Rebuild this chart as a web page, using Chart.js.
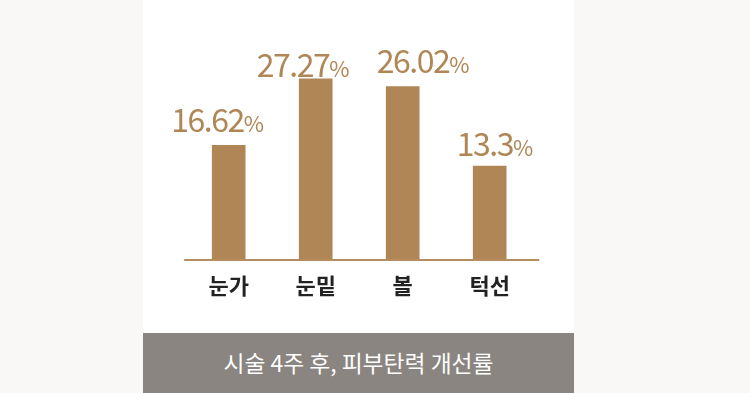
<!DOCTYPE html>
<html><head><meta charset="utf-8">
<script src="https://cdn.jsdelivr.net/npm/chart.js@4"></script>
<style>
html,body{margin:0;padding:0;width:750px;height:393px;overflow:hidden;background:#f9f8f6;}
#panel{position:absolute;left:143px;top:0;width:431px;height:333px;background:#ffffff;}
#band{position:absolute;left:143px;top:333px;width:431px;height:60px;background:#8a8580;color:#ffffff;
 font-family:"Noto Sans CJK KR","Noto Sans",sans-serif;font-size:22.8px;line-height:60px;text-align:center;}
#wrap{position:absolute;left:0;top:0;width:750px;height:393px;}
</style></head>
<body>
<div id="panel"></div>
<div id="band">시술 4주 후, 피부탄력 개선률</div>
<div id="wrap"><canvas id="c" width="750" height="393"></canvas></div>
<script>
const categories = ["눈가", "눈밑", "볼", "턱선"];
const values = [16.62, 27.27, 26.02, 13.3];
const valueTexts = ["16.62", "27.27", "26.02", "13.3"];
const unit = "%";
const yMin = -1.75;
const yMax = 30;

const BAR = "#b08656";
const FONT = '"Noto Sans CJK KR","Noto Sans",sans-serif';

const valueLabels = {
  id: 'valueLabels',
  afterDatasetsDraw(chart, args, opts) {
    const ctx = chart.ctx;
    const meta = chart.getDatasetMeta(0);
    ctx.save();
    ctx.fillStyle = opts.color;
    ctx.textBaseline = 'alphabetic';
    ctx.textAlign = 'left';
    meta.data.forEach((el, i) => {
      const num = valueTexts[i];
      ctx.font = '400 ' + opts.numSize + 'px ' + FONT;
      ctx.letterSpacing = opts.numSpacing + 'px';
      const wNum = ctx.measureText(num).width;
      ctx.font = '400 ' + opts.unitSize + 'px ' + FONT;
      ctx.letterSpacing = '0px';
      const wUnit = ctx.measureText(unit).width;
      const total = wNum + wUnit;
      const off = opts.offsets[i];
      const x = el.x - total / 2 + off[0];
      const y = el.y + off[1];
      ctx.font = '400 ' + opts.numSize + 'px ' + FONT;
      ctx.letterSpacing = opts.numSpacing + 'px';
      ctx.fillText(num, x, y);
      ctx.font = '400 ' + opts.unitSize + 'px ' + FONT;
      ctx.letterSpacing = '0px';
      ctx.fillText(unit, x + wNum, y);
    });
    ctx.restore();
  }
};

const baseLine = {
  id: 'baseLine',
  afterDatasetsDraw(chart, args, opts) {
    const {ctx, chartArea} = chart;
    ctx.save();
    ctx.strokeStyle = opts.color;
    ctx.lineWidth = 2;
    ctx.beginPath();
    ctx.moveTo(chartArea.left - opts.extendLeft, chartArea.bottom);
    ctx.lineTo(chartArea.right + opts.extendRight, chartArea.bottom);
    ctx.stroke();
    ctx.restore();
  }
};

new Chart(document.getElementById('c'), {
  type: 'bar',
  data: {
    labels: categories,
    datasets: [{ data: values, base: yMin, backgroundColor: BAR, borderWidth: 0, barThickness: 33 }]
  },
  options: {
    responsive: false,
    animation: false,
    events: [],
    layout: { padding: { left: 185.2, right: 216.8, top: 61.7, bottom: 0 } },
    plugins: {
      legend: { display: false },
      tooltip: { enabled: false },
      valueLabels: {
        color: "#b08656", numSize: 32, numSpacing: -1.5, unitSize: 22,
        offsets: [[-11, -13], [-12.5, -1.6], [20.5, -13.3], [5.3, -9.6]]
      },
      baseLine: { color: "#b58d5f", extendLeft: 1, extendRight: 6 }
    },
    scales: {
      x: {
        grid: { display: false, drawTicks: false },
        border: { display: false },
        ticks: { color: "#222222", font: { family: FONT, size: 22, weight: '600' }, padding: 12 },
        afterFit(axis) { axis.height = 133; }
      },
      y: { display: false, min: yMin, max: yMax }
    }
  },
  plugins: [baseLine, valueLabels]
});
</script>
</body></html>
